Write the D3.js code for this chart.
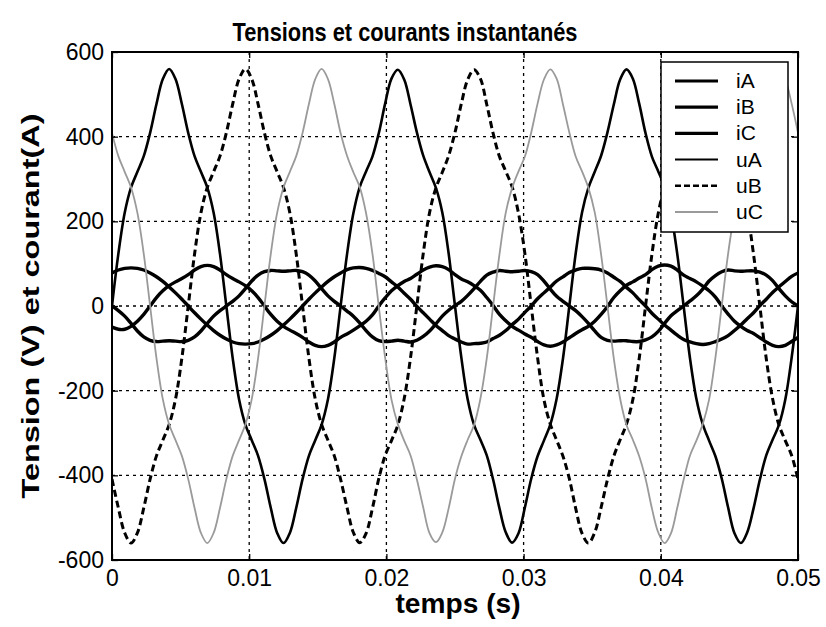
<!DOCTYPE html>
<html>
<head>
<meta charset="utf-8">
<script src="https://cdn.jsdelivr.net/npm/d3@7/dist/d3.min.js"></script>
<style>
  body { margin: 0; background: #fff; }
  svg { display: block; }
  text { font-family: "Liberation Sans", Arial, sans-serif; fill: #000; }
</style>
</head>
<body>
<svg id="chart" width="826" height="627"></svg>
<script>
// Axis ticks and labels
const xTicks = [0, 0.01, 0.02, 0.03, 0.04, 0.05];
const xTickLabels = ["0", "0.01", "0.02", "0.03", "0.04", "0.05"];
const yTicks = [-600, -400, -200, 0, 200, 400, 600];
const yTickLabels = ["-600", "-400", "-200", "0", "200", "400", "600"];

// Legend entries, in plotting order
const seriesNames = ["iA", "iB", "iC", "uA", "uB", "uC"];

// Samples are taken every 1/2160 s (10 electrical degrees at 60 Hz), 0 .. 0.05 s
const sampleStep = 0.05 / 108;

// Phase currents (A)
const iA = [
  -50, -55, -55, -48, -36, -20, 0, 20, 36, 48, 57, 65, 74, 85, 93, 96, 93, 85, 74, 65, 57, 48, 36, 20, 0, -20, -36, -48, -57, -65, -74, -85, -93, -96, -93, -85,
  -74, -66, -57, -47, -36, -21, 0, 19, 36, 48, 58, 65, 75, 85, 92, 95, 93, 86, 74, 64, 57, 48, 37, 20, 1, -20, -35, -48, -57, -66, -74, -84, -92, -95, -92, -85,
  -75, -65, -56, -48, -36, -20, -1, 20, 36, 49, 57, 66, 74, 86, 94, 97, 94, 85, 73, 65, 57, 47, 36, 21, 0, -19, -36, -48, -58, -65, -75, -85, -93, -96, -93, -84,
  -74
];
const iB = [
  0, -11, -24, -41, -59, -73, -81, -84, -83, -82, -83, -84, -81, -73, -59, -41, -24, -11, 0, 11, 24, 41, 59, 73, 81, 84, 83, 82, 83, 84, 81, 73, 59, 41, 24, 11,
  0, -12, -24, -40, -58, -73, -82, -84, -83, -81, -83, -85, -81, -72, -59, -42, -24, -10, 1, 11, 25, 41, 58, 73, 80, 84, 82, 81, 82, 84, 81, 74, 59, 40, 23, 11,
  0, -11, -25, -41, -59, -74, -81, -83, -82, -82, -84, -84, -80, -73, -60, -41, -23, -11, 0, 12, 24, 40, 59, 72, 81, 85, 83, 82, 83, 83, 80, 73, 60, 41, 24, 10,
  0
];
const iC = [
  78, 85, 89, 90, 89, 85, 78, 69, 58, 45, 31, 16, 0, -16, -31, -45, -58, -69, -78, -85, -89, -90, -89, -85, -78, -69, -58, -45, -31, -16, 0, 16, 31, 45, 58, 69,
  78, 86, 90, 91, 89, 84, 77, 69, 57, 45, 30, 16, -1, -16, -31, -46, -58, -70, -78, -85, -90, -89, -88, -85, -77, -69, -58, -44, -31, -15, 0, 17, 31, 45, 59, 69,
  79, 85, 89, 89, 88, 85, 78, 68, 58, 44, 31, 15, 0, -17, -31, -45, -57, -69, -79, -85, -89, -91, -89, -84, -78, -70, -58, -45, -30, -16, 1, 16, 32, 45, 58, 70,
  78
];

// Phase voltages (V)
const uA = [
  0, 123, 220, 280, 317, 354, 409, 477, 536, 560, 536, 477, 409, 354, 317, 280, 220, 123, 0, -123, -220, -280, -317, -354, -409, -477, -536, -560, -536, -477, -409, -354, -317, -280, -220, -123,
  1, 122, 219, 281, 318, 353, 408, 478, 537, 558, 535, 476, 410, 355, 316, 279, 221, 124, 0, -122, -221, -281, -316, -353, -410, -478, -535, -559, -537, -476, -408, -355, -318, -280, -219, -124,
  0, 124, 221, 279, 317, 355, 410, 476, 535, 559, 537, 478, 408, 353, 318, 281, 219, 122, -1, -124, -219, -279, -318, -355, -408, -476, -537, -560, -535, -478, -410, -353, -316, -281, -221, -122,
  0
];
const uB = [
  -409, -477, -536, -560, -536, -477, -409, -354, -317, -280, -220, -123, 0, 123, 220, 280, 317, 354, 409, 477, 536, 560, 536, 477, 409, 354, 317, 280, 220, 123, 0, -123, -220, -280, -317, -354,
  -410, -476, -535, -559, -537, -478, -408, -353, -318, -281, -219, -122, 1, 124, 221, 279, 316, 355, 410, 478, 535, 558, 537, 476, 408, 353, 318, 281, 219, 124, 0, -122, -221, -279, -317, -355,
  -408, -478, -537, -560, -535, -476, -410, -355, -316, -279, -221, -124, 0, 122, 219, 281, 318, 353, 408, 476, 537, 559, 535, 478, 410, 355, 316, 279, 221, 122, -1, -124, -219, -281, -318, -353,
  -409
];
const uC = [
  409, 354, 317, 280, 220, 123, 0, -123, -220, -280, -317, -354, -409, -477, -536, -560, -536, -477, -409, -354, -317, -280, -220, -123, 0, 123, 220, 280, 317, 354, 409, 477, 536, 560, 536, 477,
  408, 355, 316, 281, 219, 124, -1, -122, -221, -279, -318, -353, -410, -476, -537, -558, -535, -478, -408, -355, -316, -281, -219, -124, 0, 122, 221, 279, 318, 353, 410, 478, 535, 559, 537, 476,
  410, 353, 318, 279, 221, 122, 0, -124, -219, -281, -316, -355, -408, -478, -535, -560, -537, -476, -410, -353, -318, -279, -221, -122, 1, 124, 219, 281, 316, 355, 408, 476, 537, 560, 535, 478,
  409
];

const seriesValues = [iA, iB, iC, uA, uB, uC];
const seriesStyles = [
  { stroke: "#000", width: 3.4, dash: null },
  { stroke: "#000", width: 3.4, dash: null },
  { stroke: "#000", width: 3.4, dash: null },
  { stroke: "#000", width: 2.6, dash: null },
  { stroke: "#000", width: 3.0, dash: "7,4" },
  { stroke: "#9a9a9a", width: 1.8, dash: null }
];

const svg = d3.select("#chart");
const margin = { left: 112, right: 28, top: 52, bottom: 67 };
const W = 826, H = 627;
const x = d3.scaleLinear().domain([0, 0.05]).range([margin.left, W - margin.right]);
const y = d3.scaleLinear().domain([-600, 600]).range([H - margin.bottom, margin.top]);

svg.append("rect").attr("width", W).attr("height", H).attr("fill", "#fff");

svg.append("defs").append("clipPath").attr("id", "plotClip")
  .append("rect")
  .attr("x", x(0)).attr("y", y(600))
  .attr("width", x(0.05) - x(0)).attr("height", y(-600) - y(600));

// Dotted grid
const grid = svg.append("g").attr("stroke", "#000").attr("stroke-width", 1.3).attr("stroke-dasharray", "3,4");
grid.selectAll("line.gx").data(xTicks.slice(1, -1)).join("line")
  .attr("x1", d => x(d)).attr("x2", d => x(d))
  .attr("y1", y(600)).attr("y2", y(-600));
grid.selectAll("line.gy").data(yTicks.slice(1, -1)).join("line")
  .attr("x1", x(0)).attr("x2", x(0.05))
  .attr("y1", d => y(d)).attr("y2", d => y(d));

// Curves
const line = d3.line()
  .x((d, i) => x(i * sampleStep))
  .y(d => y(d))
  .curve(d3.curveCatmullRom.alpha(0.5));

const curves = svg.append("g").attr("clip-path", "url(#plotClip)").attr("fill", "none");
seriesValues.forEach((vals, s) => {
  const st = seriesStyles[s];
  curves.append("path")
    .datum(vals)
    .attr("d", line)
    .attr("stroke", st.stroke)
    .attr("stroke-width", st.width)
    .attr("stroke-linejoin", "round")
    .attr("stroke-dasharray", st.dash);
});

// Axes: bottom/left with labels, top/right mirrored ticks, all pointing inward
const tickLen = 6;
const xAxis = d3.axisBottom(x).tickValues(xTicks).tickFormat((d, i) => xTickLabels[i])
  .tickSizeInner(-tickLen).tickSizeOuter(0).tickPadding(10);
const yAxis = d3.axisLeft(y).tickValues(yTicks).tickFormat((d, i) => yTickLabels[i])
  .tickSizeInner(-tickLen).tickSizeOuter(0).tickPadding(8);
const xTop = d3.axisTop(x).tickValues(xTicks).tickFormat("").tickSizeInner(-tickLen).tickSizeOuter(0);
const yRight = d3.axisRight(y).tickValues(yTicks).tickFormat("").tickSizeInner(-tickLen).tickSizeOuter(0);

const gx = svg.append("g").attr("transform", `translate(0,${y(-600)})`).call(xAxis);
const gy = svg.append("g").attr("transform", `translate(${x(0)},0)`).call(yAxis);
svg.append("g").attr("transform", `translate(0,${y(600)})`).call(xTop);
svg.append("g").attr("transform", `translate(${x(0.05)},0)`).call(yRight);

svg.selectAll(".domain").remove();
svg.selectAll(".tick line").attr("stroke", "#000").attr("stroke-width", 1.3);
gx.selectAll("text").attr("font-size", 23).attr("font-family", "'Liberation Sans', Arial, sans-serif");
gy.selectAll("text").attr("font-size", 23).attr("font-family", "'Liberation Sans', Arial, sans-serif");

// Frame
svg.append("rect")
  .attr("x", x(0)).attr("y", y(600))
  .attr("width", x(0.05) - x(0)).attr("height", y(-600) - y(600))
  .attr("fill", "none").attr("stroke", "#000").attr("stroke-width", 2);

// Title and axis labels
svg.append("text").attr("x", 405).attr("y", 41).attr("text-anchor", "middle")
  .attr("font-size", 25).attr("font-weight", "bold")
  .attr("textLength", 345).attr("lengthAdjust", "spacingAndGlyphs")
  .text("Tensions et courants instantanés");
svg.append("text").attr("x", 458).attr("y", 613).attr("text-anchor", "middle")
  .attr("font-size", 27).attr("font-weight", "bold")
  .attr("textLength", 125).attr("lengthAdjust", "spacingAndGlyphs")
  .text("temps (s)");
svg.append("text")
  .attr("transform", `translate(39,${(y(600) + y(-600)) / 2}) rotate(-90)`)
  .attr("text-anchor", "middle")
  .attr("font-size", 23).attr("font-weight", "bold")
  .attr("textLength", 385).attr("lengthAdjust", "spacingAndGlyphs")
  .text("Tension (V) et courant(A)");

// Legend
const legend = svg.append("g").attr("transform", "translate(661,62)");
legend.append("rect").attr("width", 127).attr("height", 170)
  .attr("fill", "#fff").attr("stroke", "#000").attr("stroke-width", 1.5);
const legendStyles = [
  { stroke: "#000", width: 3.2, dash: null },
  { stroke: "#000", width: 3.2, dash: null },
  { stroke: "#000", width: 3.2, dash: null },
  { stroke: "#000", width: 2.0, dash: null },
  { stroke: "#000", width: 2.6, dash: "6,3" },
  { stroke: "#9a9a9a", width: 1.8, dash: null }
];
const rowY = d3.scalePoint().domain(seriesNames).range([19, 150]);
seriesNames.forEach((name, i) => {
  const st = legendStyles[i];
  const g = legend.append("g").attr("transform", `translate(0,${rowY(name)})`);
  g.append("line").attr("x1", 14).attr("x2", 57).attr("y1", 0).attr("y2", 0)
    .attr("stroke", st.stroke).attr("stroke-width", st.width).attr("stroke-dasharray", st.dash);
  g.append("text").attr("x", 75).attr("y", 7).attr("font-size", 21).text(name);
});
</script>
</body>
</html>
